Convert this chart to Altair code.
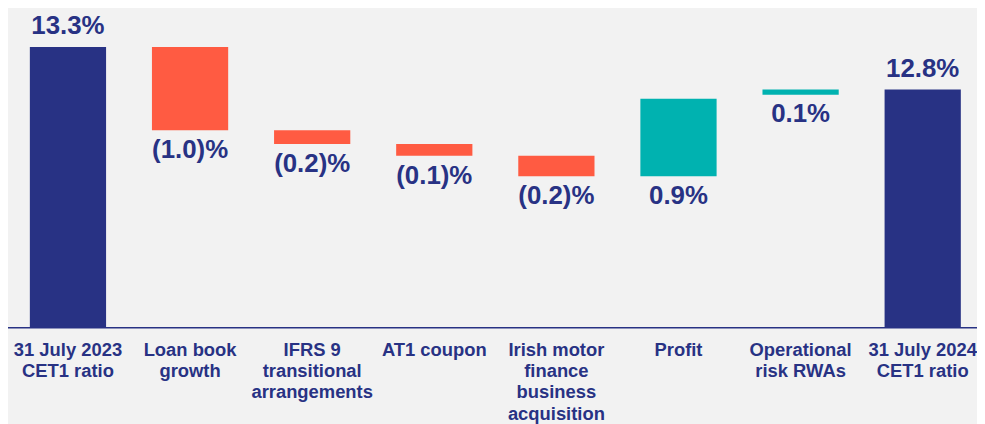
import json
import altair as alt
import pandas as pd

categories = ["31 July 2023 CET1 ratio", "Loan book growth", "IFRS 9 transitional arrangements",
              "AT1 coupon", "Irish motor finance business acquisition", "Profit",
              "Operational risk RWAs", "31 July 2024 CET1 ratio"]
label_lines = [["31 July 2023", "CET1 ratio"], ["Loan book", "growth"],
               ["IFRS 9", "transitional", "arrangements"], ["AT1 coupon"],
               ["Irish motor", "finance", "business", "acquisition"], ["Profit"],
               ["Operational", "risk RWAs"], ["31 July 2024", "CET1 ratio"]]
bar_start = [0.0, 13.30, 12.32, 12.16, 12.02, 11.78, 12.74, 0.0]
bar_end = [13.30, 12.32, 12.16, 12.02, 11.78, 12.69, 12.80, 12.80]
kinds = ["total", "decrease", "decrease", "decrease", "decrease", "increase", "increase", "total"]
value_labels = ["13.3%", "(1.0)%", "(0.2)%", "(0.1)%", "(0.2)%", "0.9%", "0.1%", "12.8%"]

NAVY = "#283284"
ORANGE = "#FF5B42"
TEAL = "#00B2B0"
FONT = "Liberation Sans"

df = pd.DataFrame({
    "cat": categories,
    "start": bar_start,
    "end": bar_end,
    "kind": kinds,
    "label": value_labels,
})
df["low"] = df[["start", "end"]].min(axis=1)
df["high"] = df[["start", "end"]].max(axis=1)

label_expr = (json.dumps(label_lines) + "[indexof(" + json.dumps(categories) + ", datum.value)]")

x = alt.X("cat:N", sort=categories, title=None,
          scale=alt.Scale(range=[-1.1, 981.8], paddingInner=0.3757, paddingOuter=0.18785,
                          align=0.5, round=False),
          axis=alt.Axis(labelExpr=label_expr, labelAngle=0, labelFont=FONT, labelFontSize=18.5,
                        labelFontWeight="bold", labelColor=NAVY, labelLineHeight=21.5,
                        labelPadding=13, ticks=False, domainColor=NAVY, domainWidth=1.5,
                        labelOverlap=False, labelLimit=0, grid=False))
yscale = alt.Scale(domain=[10, 13.745], zero=False, nice=False)

base = alt.Chart(df)

bars = base.mark_bar(clip=True).encode(
    x=x,
    y=alt.Y("start:Q", scale=yscale, axis=None),
    y2="end:Q",
    color=alt.Color("kind:N", scale=alt.Scale(domain=["total", "decrease", "increase"],
                                              range=[NAVY, ORANGE, TEAL]), legend=None),
)

tot_text = base.transform_filter(alt.datum.kind == "total").mark_text(
    baseline="bottom", dy=-8, font=FONT, fontSize=26, fontWeight="bold", color=NAVY
).encode(x=x, y=alt.Y("high:Q", scale=yscale), text="label:N")

delta_text = base.transform_filter(alt.datum.kind != "total").mark_text(
    baseline="top", dy=7, font=FONT, fontSize=26, fontWeight="bold", color=NAVY
).encode(x=x, y=alt.Y("low:Q", scale=yscale), text="label:N")

chart = (bars + tot_text + delta_text).properties(
    width=969, height=320, background="#F2F2F2",
    padding={"left": 0, "top": 0, "right": 6, "bottom": 96},
    autosize=alt.AutoSizeParams(type="none"),
).configure_view(stroke=None)

chart.save("out.html", embed_options={"renderer": "svg", "actions": False})
